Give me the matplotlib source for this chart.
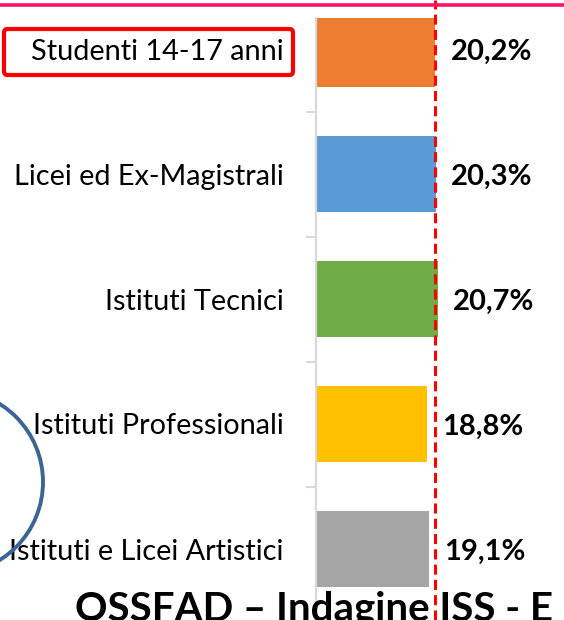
"""Horizontal bars: share per school type vs. all students 14-17 (OSSFAD slide)."""
import matplotlib
matplotlib.use("Agg")
import matplotlib.pyplot as plt
from matplotlib.lines import Line2D
from matplotlib.patches import Ellipse, FancyBboxPatch

categories = ["Studenti 14-17 anni", "Licei ed Ex-Magistrali", "Istituti Tecnici",
              "Istituti Professionali", "Istituti e Licei Artistici"]
values = [20.2, 20.3, 20.7, 18.8, 19.1]
labels = ["20,2%", "20,3%", "20,7%", "18,8%", "19,1%"]
reference = 20.2
colors = ["#ed7d31", "#5b9bd5", "#70ad47", "#ffc000", "#a5a5a5"]
title = "OSSFAD \u2013 Indagine ISS - E"

W, H = 564, 620
plt.rcParams["font.family"] = ["Lato", "DejaVu Sans"]


def fx(px):
    return px / W


def fy(py):
    return 1 - py / H


def main():
    fig = plt.figure(figsize=(W / 100, H / 100), dpi=100)
    ax = fig.add_axes([fx(316), 0, 1 - fx(316), 1 - 18 / H])

    y = list(range(len(categories)))
    ax.barh(y, values, height=0.61, color=colors, zorder=2)
    ax.set_xlim(0, 42.07)
    ax.set_ylim(4.568, -0.248)

    ax.axvline(reference, ymin=0, ymax=H / (H - 18), color="#ff0000", lw=2.2,
               linestyle=(0, (3.3, 1.7)), clip_on=False, zorder=3)

    for yi, v, lab in zip(y, values, labels):
        ax.text(v + 2.6, yi + 0.02, lab, ha="left", va="center",
                fontsize=21, fontweight="bold", color="black")

    ax.set_yticks(y)
    ax.set_yticklabels(categories, fontsize=20.8)
    ax.tick_params(axis="y", which="major", length=0, pad=23.5)
    ax.set_yticks([0.5, 1.5, 2.5, 3.5], minor=True)
    ax.tick_params(axis="y", which="minor", length=7, width=1.5, color="#d9d9d9")
    ax.set_xticks([])
    for s in ["top", "right", "bottom"]:
        ax.spines[s].set_visible(False)
    ax.spines["left"].set_color("#d9d9d9")
    ax.spines["left"].set_linewidth(1.6)
    ax.patch.set_alpha(0)

    # slide decorations
    fig.add_artist(Line2D([0, 1], [fy(5), fy(5)], transform=fig.transFigure,
                          color="#ff1469", lw=2.6))
    fig.add_artist(FancyBboxPatch((fx(4), fy(75)), fx(289), 46 / H,
                                  boxstyle="round,pad=0,rounding_size=0.006",
                                  transform=fig.transFigure, fill=False,
                                  edgecolor="#ff0000", lw=3))
    fig.add_artist(Ellipse((fx(-49), fy(482)), 2 * 92 / W, 2 * 92 / H,
                           transform=fig.transFigure, fill=False,
                           edgecolor="#3c6494", lw=2.8))
    fig.text(fx(75), fy(620), title, ha="left", va="baseline",
             fontsize=29, fontweight="bold", color="black")

    fig.savefig("out.png", dpi=100)


if __name__ == "__main__":
    main()
